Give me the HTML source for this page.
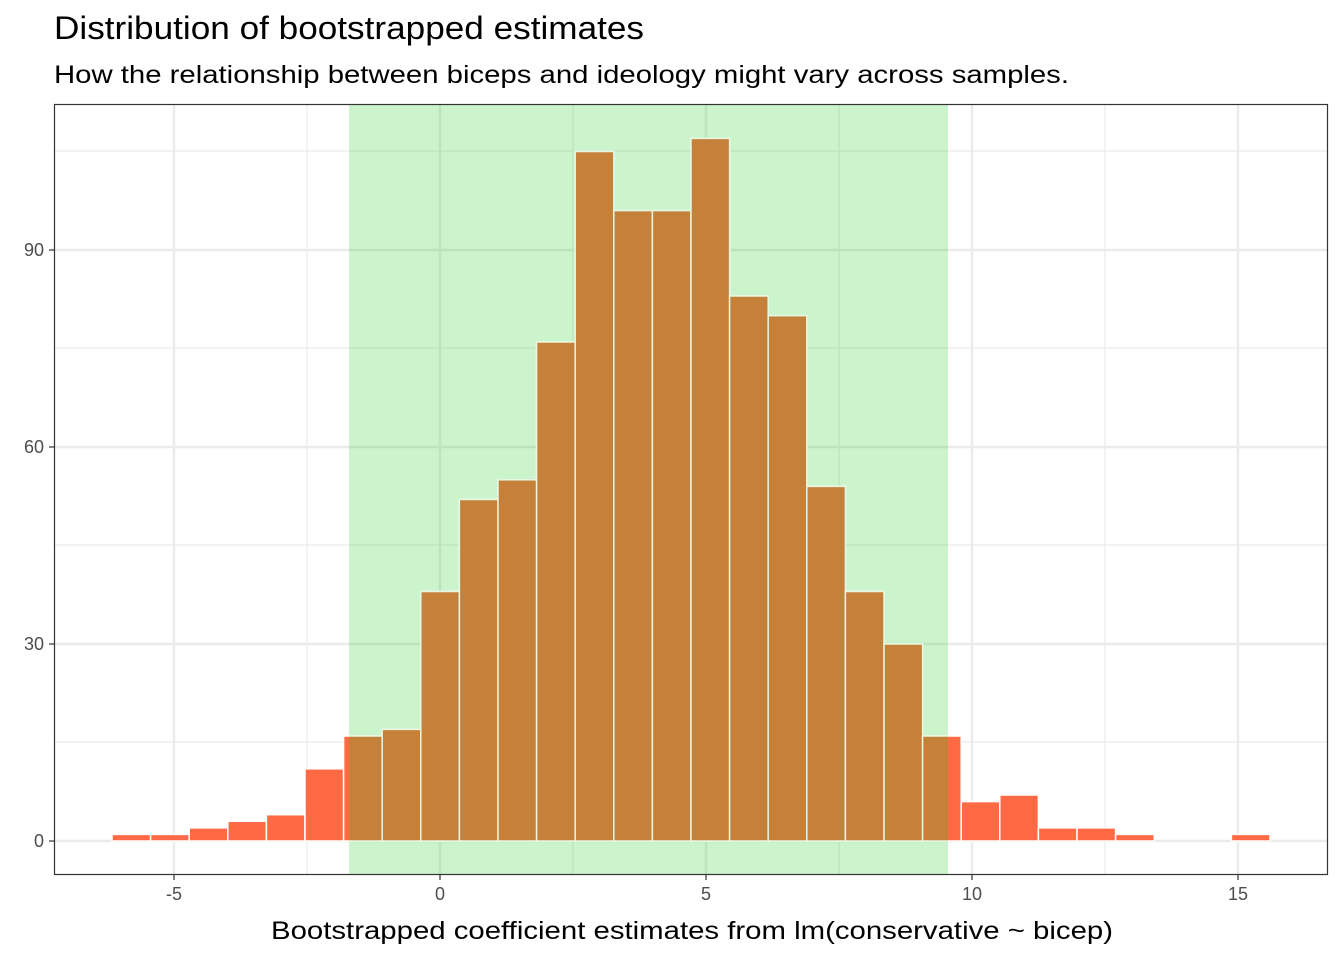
<!DOCTYPE html>
<html><head><meta charset="utf-8"><style>
body{margin:0;background:#fff;}
svg{display:block;font-family:"Liberation Sans",Arial,sans-serif;}
</style></head><body>
<svg width="1344" height="960" viewBox="0 0 1344 960" xmlns="http://www.w3.org/2000/svg">
<rect width="1344" height="960" fill="#fff"/>
<text x="54" y="39" font-size="32" fill="#000" textLength="590" lengthAdjust="spacingAndGlyphs">Distribution of bootstrapped estimates</text>
<text x="54" y="83" font-size="25" fill="#000" textLength="1015" lengthAdjust="spacingAndGlyphs">How the relationship between biceps and ideology might vary across samples.</text>
<g stroke="#EBEBEB" stroke-width="1.2">
<line x1="54" x2="1328" y1="742" y2="742"/><line x1="54" x2="1328" y1="545" y2="545"/>
<line x1="54" x2="1328" y1="348" y2="348"/><line x1="54" x2="1328" y1="151" y2="151"/>
<line x1="307" x2="307" y1="104" y2="875"/><line x1="573" x2="573" y1="104" y2="875"/>
<line x1="839" x2="839" y1="104" y2="875"/><line x1="1105" x2="1105" y1="104" y2="875"/>
</g>
<g stroke="#EBEBEB" stroke-width="2.4">
<line x1="54" x2="1328" y1="841" y2="841"/><line x1="54" x2="1328" y1="644" y2="644"/>
<line x1="54" x2="1328" y1="447" y2="447"/><line x1="54" x2="1328" y1="250" y2="250"/>
<line x1="174" x2="174" y1="104" y2="875"/><line x1="440" x2="440" y1="104" y2="875"/>
<line x1="706" x2="706" y1="104" y2="875"/><line x1="972" x2="972" y1="104" y2="875"/>
<line x1="1238" x2="1238" y1="104" y2="875"/>
</g>
<rect x="349" y="104" width="599" height="771" fill="rgb(0,200,0)" fill-opacity="0.2"/>
<defs><clipPath id="g"><rect x="349" y="104" width="599" height="771"/></clipPath>
<g id="bars">
<rect x="112" y="834.4" width="38.6" height="6.6"/>
<rect x="150.6" y="834.4" width="38.6" height="6.6"/>
<rect x="189.2" y="827.9" width="38.6" height="13.1"/>
<rect x="227.8" y="821.3" width="38.6" height="19.7"/>
<rect x="266.4" y="814.7" width="38.6" height="26.3"/>
<rect x="305" y="768.8" width="38.6" height="72.2"/>
<rect x="343.6" y="736" width="38.6" height="105"/>
<rect x="382.2" y="729.4" width="38.6" height="111.6"/>
<rect x="420.8" y="591.5" width="38.6" height="249.5"/>
<rect x="459.4" y="499.5" width="38.6" height="341.5"/>
<rect x="498" y="479.8" width="38.6" height="361.2"/>
<rect x="536.6" y="342" width="38.6" height="499"/>
<rect x="575.2" y="151.5" width="38.6" height="689.5"/>
<rect x="613.8" y="210.6" width="38.6" height="630.4"/>
<rect x="652.4" y="210.6" width="38.6" height="630.4"/>
<rect x="691" y="138.4" width="38.6" height="702.6"/>
<rect x="729.6" y="296" width="38.6" height="545"/>
<rect x="768.2" y="315.7" width="38.6" height="525.3"/>
<rect x="806.8" y="486.4" width="38.6" height="354.6"/>
<rect x="845.4" y="591.5" width="38.6" height="249.5"/>
<rect x="884" y="644" width="38.6" height="197"/>
<rect x="922.6" y="736" width="38.6" height="105"/>
<rect x="961.2" y="801.6" width="38.6" height="39.4"/>
<rect x="999.8" y="795" width="38.6" height="46"/>
<rect x="1038.4" y="827.9" width="38.6" height="13.1"/>
<rect x="1077" y="827.9" width="38.6" height="13.1"/>
<rect x="1115.6" y="834.4" width="38.6" height="6.6"/>
<rect x="1231.4" y="834.4" width="38.6" height="6.6"/>
</g></defs>
<use href="#bars" fill="#FF6A45" stroke="#fff" stroke-width="1.5"/>
<g clip-path="url(#g)">
<use href="#bars" fill="#C5803A" stroke="#E6F6E0" stroke-width="1.5"/>
</g>
<rect x="54.5" y="104.5" width="1273" height="770" fill="none" stroke="#333" stroke-width="1.2"/>
<g stroke="#333" stroke-width="1.2">
<line x1="49" x2="54" y1="841" y2="841"/><line x1="49" x2="54" y1="644" y2="644"/>
<line x1="49" x2="54" y1="447" y2="447"/><line x1="49" x2="54" y1="250" y2="250"/>
<line x1="174" x2="174" y1="875" y2="880"/><line x1="440" x2="440" y1="875" y2="880"/>
<line x1="706" x2="706" y1="875" y2="880"/><line x1="972" x2="972" y1="875" y2="880"/>
<line x1="1238" x2="1238" y1="875" y2="880"/>
</g>
<g font-size="18" fill="#4D4D4D" text-anchor="end">
<text x="44" y="847">0</text><text x="44" y="650">30</text><text x="44" y="453">60</text><text x="44" y="256">90</text>
</g>
<g font-size="18" fill="#4D4D4D" text-anchor="middle">
<text x="174" y="900">-5</text><text x="440" y="900">0</text><text x="706" y="900">5</text><text x="972" y="900">10</text><text x="1238" y="900">15</text>
</g>
<text x="271" y="939" font-size="25" fill="#000" textLength="842" lengthAdjust="spacingAndGlyphs">Bootstrapped coefficient estimates from lm(conservative ~ bicep)</text>
</svg>
</body></html>
